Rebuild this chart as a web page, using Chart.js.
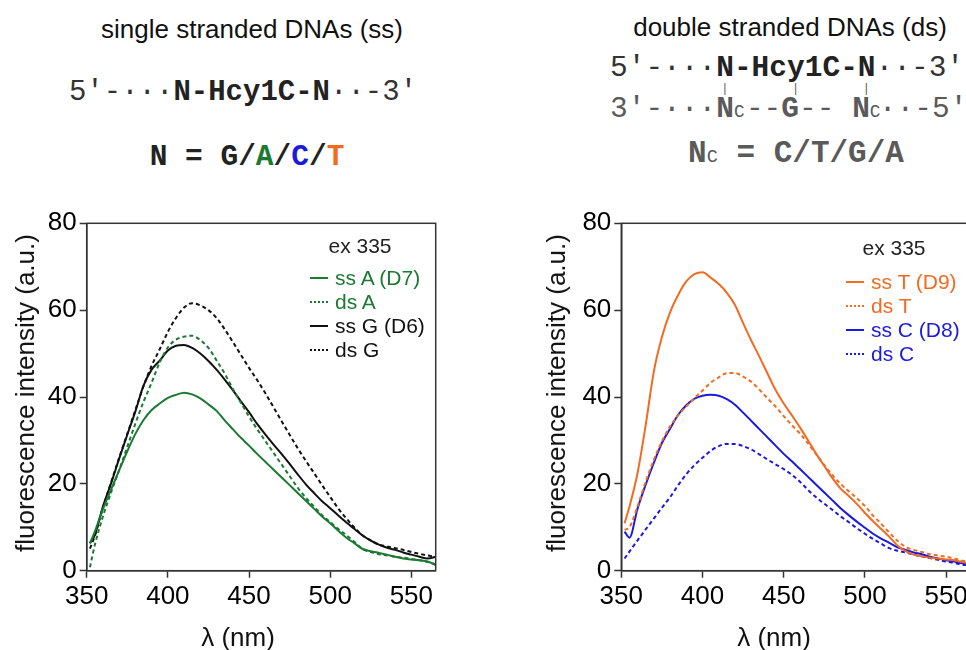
<!DOCTYPE html>
<html>
<head>
<meta charset="utf-8">
<script src="https://cdn.jsdelivr.net/npm/chart.js@4.4.1/dist/chart.umd.min.js"></script>
<style>
  html, body { margin: 0; padding: 0; width: 966px; height: 650px; overflow: hidden; background: #fff; }
  body { position: relative; font-family: 'Liberation Sans', Arial, sans-serif; color: #111; }
  .abs { position: absolute; white-space: pre; line-height: 1; }
  .mid { transform: translate(-50%, -50%); }
  .vmid { transform: translate(0, -50%); }
  .head { font-size: 26px; }
  .mono { font-family: 'Liberation Mono', 'Courier New', monospace; font-size: 29px; color: #333; }
  .mono b { color: #222; }
  .ds { color: #5a5a5a; }
  .ds b { color: #5a5a5a; }
  .sub { font-size: 0.6em; font-weight: normal; }
  .axt { font-size: 26px; color: #111; }
  .rot { transform: translate(-50%, -50%) rotate(-90deg); }
  canvas { position: absolute; }
  .ex { font-size: 21px; color: #222; }
  .legend { position: absolute; font-size: 21px; line-height: 24px; white-space: nowrap; }
  .legend .smp { display: inline-block; width: 18px; height: 0; vertical-align: middle; margin-right: 7px; margin-top: -2px; }
</style>
</head>
<body>
  <div class="abs mid head" style="left:252px; top:29px;">single stranded DNAs (ss)</div>
  <div class="abs mid mono" style="left:243px; top:92px;">5'-···<b>N-Hcy1C-N</b>··-3'</div>
  <div class="abs mid mono" style="left:247px; top:158px; font-size:29.5px;"><b>N = G/<span style="color:#1b7a32">A</span>/<span style="color:#1a1ae0">C</span>/<span style="color:#f26b21">T</span></b></div>

  <div class="abs mid head" style="left:790px; top:27px;">double stranded DNAs (ds)</div>
  <div class="abs vmid mono" style="left:610px; top:69px; font-size:29.5px;">5'-···<b>N-Hcy1C-N</b>··-3'</div>
  <div class="abs vmid mono ds" style="left:615px; top:89px; font-size:12px; letter-spacing:10.5px;">      |   |   |</div>
  <div class="abs vmid mono ds" style="left:610px; top:110px; font-size:29.5px;">3'-···<b>N</b><span class="sub" style="display:inline-block;width:12px;">C</span>--<b>G</b>-- <b>N</b><span class="sub" style="display:inline-block;width:9px;">C</span>··-5'</div>
  <div class="abs mid mono ds" style="left:796px; top:153px; font-size:31px;"><b>N<span class="sub">C</span> = C/T/G/A</b></div>

  <canvas id="chartSS" width="450" height="450" style="left:0px; top:200px;"></canvas>
  <canvas id="chartDS" width="450" height="450" style="left:530px; top:200px;"></canvas>

  <div class="abs rot axt" style="left:25px; top:393px;">fluorescence intensity (a.u.)</div>
  <div class="abs mid axt" style="left:238px; top:637px;">λ (nm)</div>
  <div class="abs rot axt" style="left:556px; top:393px;">fluorescence intensity (a.u.)</div>
  <div class="abs mid axt" style="left:774px; top:637px;">λ (nm)</div>

  <div class="abs mid ex" style="left:360px; top:245px;">ex 335</div>
  <div class="legend" id="legendSS" style="left:310px; top:266px;"></div>
  <div class="abs mid ex" style="left:894px; top:247px;">ex 335</div>
  <div class="legend" id="legendDS" style="left:846px; top:270px;"></div>

<script>
// emission wavelength (nm)
const wavelengths = [352, 355, 360, 365, 370, 375, 380, 385, 390, 395, 400, 405, 410, 415, 420, 425, 430, 435, 440, 445,
  450, 455, 460, 465, 470, 475, 480, 485, 490, 495, 500, 505, 510, 515, 520, 525, 530, 535, 540, 545, 550, 555, 560, 565];

// fluorescence intensity (a.u.), ss = single stranded, ds = double stranded
const ssA = [6.3, 9.0, 14.2, 18.7, 23.1, 27.5, 31.5, 34.7, 37.0, 38.5, 39.8, 40.5, 41.0, 40.6, 39.7, 38.3, 36.8, 34.6, 32.6, 30.6,
  28.8, 26.9, 25.1, 23.3, 21.5, 19.7, 17.9, 16.1, 14.3, 12.5, 10.9, 9.2, 7.6, 6.3, 5.0, 4.5, 4.1, 3.7, 3.2, 2.8, 2.6, 2.4, 2.1, 1.3];
const dsA = [0.8, 5.9, 12.5, 18.0, 23.2, 28.5, 33.9, 38.9, 43.3, 48.0, 51.4, 53.2, 53.9, 54.1, 53.1, 51.3, 48.4, 45.4, 41.9, 38.7,
  35.5, 32.6, 29.9, 27.2, 24.5, 21.8, 19.1, 16.8, 14.8, 12.8, 11.2, 9.6, 8.2, 6.6, 5.0, 4.3, 3.8, 3.5, 3.2, 3.0, 2.7, 2.4, 2.0, 1.5];
const ssG = [6.3, 8.2, 14.8, 20.1, 25.8, 31.3, 36.7, 42.6, 46.3, 48.4, 50.7, 51.8, 52.0, 51.3, 50.0, 48.3, 46.3, 44.0, 41.6, 39.0,
  36.5, 33.8, 31.4, 29.1, 26.9, 24.6, 22.2, 19.9, 17.9, 16.0, 14.4, 12.7, 11.1, 9.6, 8.1, 6.9, 6.0, 5.3, 4.8, 4.2, 3.7, 3.2, 2.8, 3.2];
const dsG = [5.1, 8.0, 14.5, 20.3, 26.0, 31.5, 37.0, 42.5, 47.2, 51.0, 55.0, 58.2, 60.6, 61.6, 61.1, 60.0, 58.2, 55.6, 52.7, 49.7,
  46.7, 43.9, 40.9, 37.7, 34.5, 31.3, 28.2, 25.3, 22.5, 19.7, 17.0, 14.3, 12.0, 9.9, 8.1, 7.0, 6.0, 5.6, 5.2, 4.8, 4.3, 3.9, 3.5, 3.2];
const ssT = [10.9, 14.7, 22.5, 33.5, 45.8, 53.8, 59.5, 63.5, 66.6, 68.3, 68.7, 67.5, 66.0, 64.0, 61.2, 57.0, 53.0, 49.3, 45.4, 41.6,
  38.5, 35.8, 33.0, 30.0, 26.9, 24.1, 21.3, 18.9, 17.2, 15.4, 13.3, 11.4, 9.6, 7.8, 5.8, 4.5, 3.7, 3.3, 3.0, 2.8, 2.6, 2.4, 2.0, 1.6];
const dsT = [9.4, 10.0, 14.8, 20.5, 25.5, 29.8, 33.2, 35.8, 37.8, 39.7, 41.5, 43.3, 44.5, 45.5, 45.5, 44.7, 43.5, 41.7, 39.7, 37.8,
  35.6, 33.5, 31.6, 29.3, 26.8, 24.3, 22.0, 20.0, 18.3, 16.7, 14.9, 12.7, 10.8, 8.8, 6.9, 5.5, 4.8, 4.3, 3.8, 3.5, 3.2, 2.8, 2.3, 2.0];
const ssC = [9.0, 7.6, 14.3, 19.8, 24.8, 29.4, 32.7, 35.9, 38.1, 39.6, 40.3, 40.5, 40.3, 39.5, 38.2, 36.4, 34.5, 32.6, 30.7, 28.8,
  26.9, 25.2, 23.4, 21.6, 19.8, 18.0, 16.2, 14.4, 12.8, 11.3, 9.9, 8.5, 7.4, 6.4, 5.4, 4.8, 4.2, 3.8, 3.2, 2.8, 2.4, 2.1, 1.7, 1.3];
const dsC = [2.8, 4.4, 7.0, 9.5, 12.0, 14.5, 16.9, 19.7, 22.2, 24.3, 26.0, 27.6, 28.7, 29.2, 29.2, 28.7, 27.9, 26.8, 25.6, 24.5,
  23.4, 22.1, 20.5, 18.6, 16.9, 15.4, 14.0, 12.5, 11.2, 9.8, 8.5, 7.3, 6.2, 5.2, 4.6, 4.2, 3.7, 3.3, 2.9, 2.5, 2.1, 1.8, 1.4, 1.2];

const xTicks = [350, 400, 450, 500, 550];
const yTicks = [0, 20, 40, 60, 80];

const GREEN = '#1b7a32';
const BLACK = '#111111';
const ORANGE = '#f26b21';
const BLUE = '#1a1ae0';

const leftSeries = [
  { label: 'ss A (D7)', values: ssA, color: GREEN, dashed: false },
  { label: 'ds A', values: dsA, color: GREEN, dashed: true },
  { label: 'ss G (D6)', values: ssG, color: BLACK, dashed: false },
  { label: 'ds G', values: dsG, color: BLACK, dashed: true },
];
const rightSeries = [
  { label: 'ss T (D9)', values: ssT, color: ORANGE, dashed: false },
  { label: 'ds T', values: dsT, color: ORANGE, dashed: true },
  { label: 'ss C (D8)', values: ssC, color: BLUE, dashed: false },
  { label: 'ds C', values: dsC, color: BLUE, dashed: true },
];

// box round the plot area
const framePlugin = {
  id: 'frame',
  afterDraw(chart) {
    const { ctx, chartArea: a } = chart;
    ctx.save();
    ctx.strokeStyle = '#333';
    ctx.lineWidth = 1.5;
    ctx.strokeRect(a.left, a.top, a.right - a.left, a.bottom - a.top);
    ctx.restore();
  },
};

const tickFont = { family: "'Liberation Sans', Arial, sans-serif", size: 26 };

const makeChart = (id, series, axisWidth, rightPad) => {
  new Chart(document.getElementById(id), {
    type: 'line',
    data: {
      datasets: series.map((s) => ({
        label: s.label,
        data: wavelengths.map((w, i) => ({ x: w, y: s.values[i] })),
        borderColor: s.color,
        borderWidth: 2,
        borderDash: s.dashed ? [4, 3] : [],
        pointRadius: 0,
        fill: false,
        cubicInterpolationMode: 'monotone',
      })),
    },
    options: {
      responsive: false,
      animation: false,
      devicePixelRatio: 1,
      layout: { padding: { left: 0, top: 23.3, right: rightPad, bottom: 0 } },
      plugins: { legend: { display: false }, tooltip: { enabled: false } },
      scales: {
        x: {
          type: 'linear',
          min: 350,
          max: 565,
          afterBuildTicks: (s) => { s.ticks = xTicks.map((v) => ({ value: v })); },
          afterFit: (s) => { s.height = 79.3; },
          ticks: { font: tickFont, color: '#000', padding: 4, maxRotation: 0 },
          grid: { drawOnChartArea: false, drawTicks: true, tickLength: 7, tickColor: '#333', tickWidth: 1.5 },
          border: { color: '#333', width: 1.5 },
        },
        y: {
          min: 0,
          max: 80,
          afterBuildTicks: (s) => { s.ticks = yTicks.map((v) => ({ value: v })); },
          afterFit: (s) => { s.width = axisWidth; },
          ticks: { font: tickFont, color: '#000', padding: 3 },
          grid: { drawOnChartArea: false, drawTicks: true, tickLength: 7, tickColor: '#333', tickWidth: 1.5 },
          border: { color: '#333', width: 1.5 },
        },
      },
    },
    plugins: [framePlugin],
  });
};

const makeLegend = (id, series) => {
  const box = document.getElementById(id);
  series.forEach((s) => {
    const row = document.createElement('div');
    row.style.color = s.color;
    const smp = document.createElement('span');
    smp.className = 'smp';
    smp.style.borderTop = (s.dashed ? '2.5px dotted ' : '2.5px solid ') + s.color;
    row.appendChild(smp);
    row.appendChild(document.createTextNode(s.label));
    box.appendChild(row);
  });
};

makeChart('chartSS', leftSeries, 86.7, 14.3);
makeChart('chartDS', rightSeries, 91.3, 9.5);
makeLegend('legendSS', leftSeries);
makeLegend('legendDS', rightSeries);
</script>
</body>
</html>
